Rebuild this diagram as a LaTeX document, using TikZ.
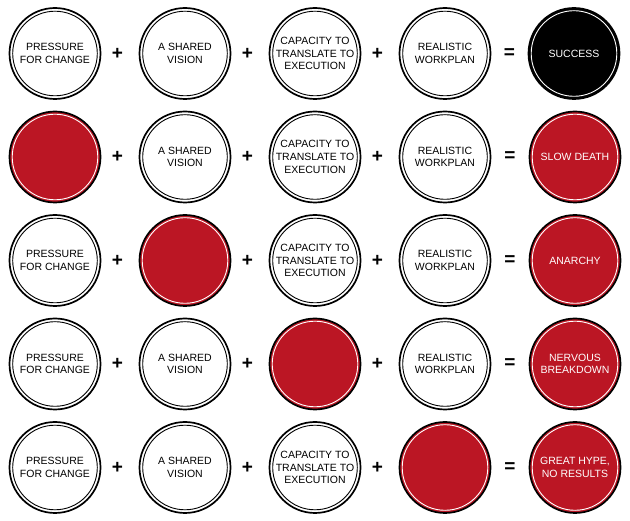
\documentclass[tikz,border=0pt]{standalone}
\usepackage{fontspec}
\setmainfont{Liberation Sans}
\usetikzlibrary{calc}
\definecolor{hred}{RGB}{187,22,36}
\tikzset{
  base/.style={circle, minimum size=91pt, inner sep=0pt, line width=1.7pt, draw=black, align=center,
    font=\fontsize{10.5}{12.7}\selectfont},
  wc/.style={base, fill=white, text=black},
  rc/.style={base, fill=hred, text=white},
  bc/.style={base, fill=black, text=white},
  inb/.style={draw=black, line width=0.9pt},
  inw/.style={draw=white, line width=0.9pt},
  op/.style={font=\fontsize{19}{19}\selectfont\bfseries, inner sep=0pt}
}
\begin{document}
\begin{tikzpicture}[x=1pt,y=-1pt]
\useasboundingbox (0,0) rectangle (630,521);
% row y positions
\def\ya{53.5}\def\yb{157}\def\yc{260.5}\def\yd{364}\def\ye{467.5}
% Row 1
\node[wc] (a1) at (55,\ya) {PRESSURE\\FOR CHANGE};
\node[wc] (a2) at (185,\ya) {A SHARED\\VISION};
\node[wc] (a3) at (315,\ya) {CAPACITY TO\\TRANSLATE TO\\EXECUTION};
\node[wc] (a4) at (445,\ya) {REALISTIC\\WORKPLAN};
\node[bc] (a5) at (574,\ya) {SUCCESS};
% Row 2
\node[rc] (b1) at (55,\yb) {};
\node[wc] (b2) at (185,\yb) {A SHARED\\VISION};
\node[wc] (b3) at (315,\yb) {CAPACITY TO\\TRANSLATE TO\\EXECUTION};
\node[wc] (b4) at (445,\yb) {REALISTIC\\WORKPLAN};
\node[rc] (b5) at (575,\yb) {SLOW DEATH};
% Row 3
\node[wc] (c1) at (55,\yc) {PRESSURE\\FOR CHANGE};
\node[rc] (c2) at (185,\yc) {};
\node[wc] (c3) at (315,\yc) {CAPACITY TO\\TRANSLATE TO\\EXECUTION};
\node[wc] (c4) at (445,\yc) {REALISTIC\\WORKPLAN};
\node[rc] (c5) at (575,\yc) {ANARCHY};
% Row 4
\node[wc] (d1) at (55,\yd) {PRESSURE\\FOR CHANGE};
\node[wc] (d2) at (185,\yd) {A SHARED\\VISION};
\node[rc] (d3) at (315,\yd) {};
\node[wc] (d4) at (445,\yd) {REALISTIC\\WORKPLAN};
\node[rc] (d5) at (575,\yd) {NERVOUS\\BREAKDOWN};
% Row 5
\node[wc] (e1) at (55,\ye) {PRESSURE\\FOR CHANGE};
\node[wc] (e2) at (185,\ye) {A SHARED\\VISION};
\node[wc] (e3) at (315,\ye) {CAPACITY TO\\TRANSLATE TO\\EXECUTION};
\node[rc] (e4) at (445,\ye) {};
\node[rc] (e5) at (575,\ye) {GREAT HYPE,\\NO RESULTS};
% inner rings
\foreach \n in {a1,a2,a3,a4,b2,b3,b4,c1,c3,c4,d1,d2,d4,e1,e2,e3}
  \draw[inb] (\n.center) circle[radius=42.3];
\foreach \n in {a5,b1,b5,c2,c5,d3,d5,e4,e5}
  \draw[inw] (\n.center) circle[radius=42.8];
% operators
\foreach \r in {a,b,c,d,e}{
  \node[op] (\r p1) at ($(\r1)!0.48!(\r2)$) {+};
  \node[op] (\r p2) at ($(\r2)!0.48!(\r3)$) {+};
  \node[op] (\r p3) at ($(\r3)!0.48!(\r4)$) {+};
  \node[op] (\r eq) at ($(\r4)!0.5!(\r5)$) {=};
}
\end{tikzpicture}
\end{document}
